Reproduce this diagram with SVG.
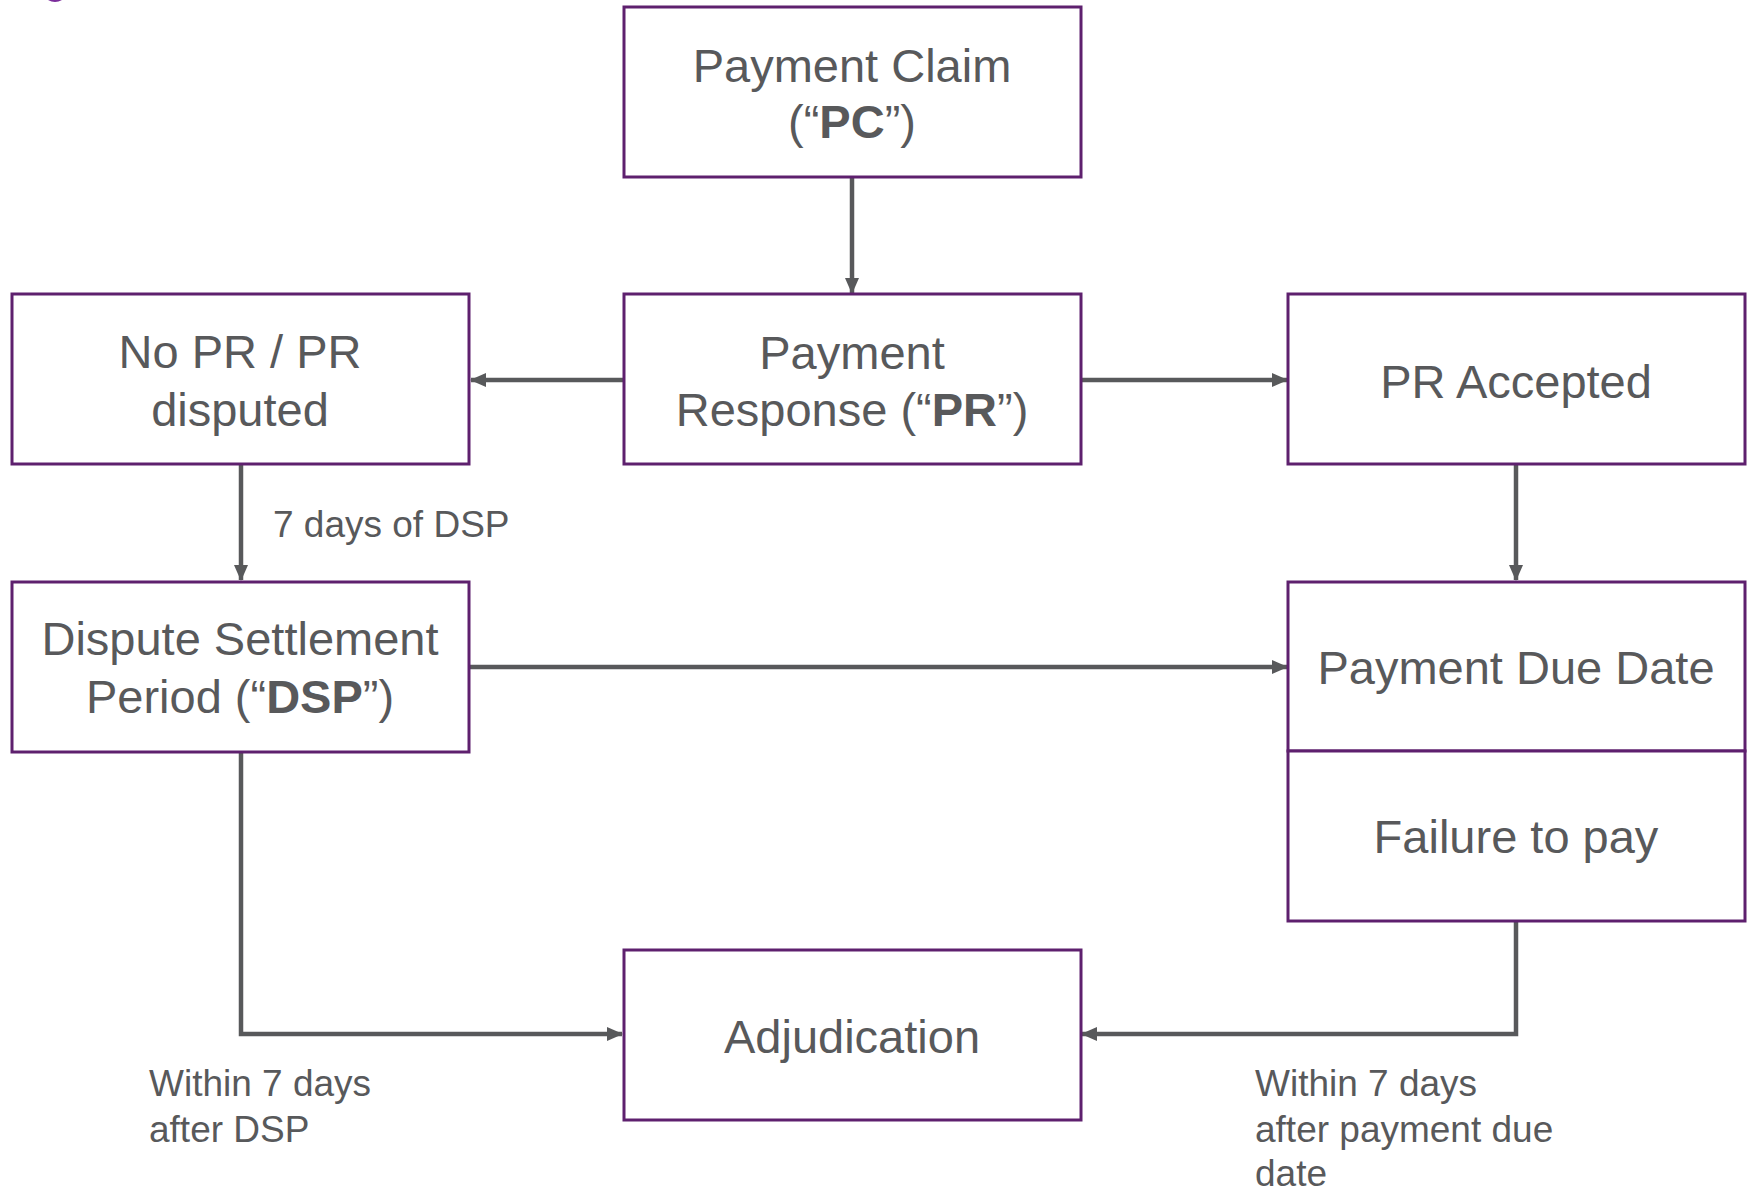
<svg xmlns="http://www.w3.org/2000/svg" width="1752" height="1189" viewBox="0 0 1752 1189">
<style>
.box{fill:#ffffff;stroke:#5E206E;stroke-width:3}
.t{font-family:"Liberation Sans",Arial,sans-serif;font-size:47px;fill:#58595B;text-anchor:middle}
.lbl{font-family:"Liberation Sans",Arial,sans-serif;font-size:37px;fill:#58595B}
.c{fill:none;stroke:#58595B;stroke-width:4.5}
.b{font-weight:bold}
</style>
<defs>
<marker id="ah" markerUnits="userSpaceOnUse" markerWidth="16" markerHeight="16" viewBox="0 0 16 16" refX="15" refY="8" orient="auto">
<path d="M0 1 L16 8 L0 15 Z" fill="#58595B"/>
</marker>
</defs>
<rect width="1752" height="1189" fill="#ffffff"/>
<path d="M48 0 Q55 4 62 0 Z" fill="#7B2D9B"/>
<g id="connectors">
<line class="c" x1="852" y1="178" x2="852" y2="293" marker-end="url(#ah)"/>
<line class="c" x1="623" y1="380" x2="471" y2="380" marker-end="url(#ah)"/>
<line class="c" x1="1081" y1="380" x2="1287" y2="380" marker-end="url(#ah)"/>
<line class="c" x1="1516" y1="465" x2="1516" y2="580" marker-end="url(#ah)"/>
<line class="c" x1="241" y1="465" x2="241" y2="580" marker-end="url(#ah)"/>
<line class="c" x1="469" y1="667" x2="1287" y2="667" marker-end="url(#ah)"/>
<polyline class="c" points="241,752 241,1034 622,1034" marker-end="url(#ah)"/>
<polyline class="c" points="1516,921 1516,1034 1082,1034" marker-end="url(#ah)"/>
<text class="lbl" x="273" y="537">7 days of DSP</text>
<text class="lbl" x="149" y="1096">Within 7 days</text>
<text class="lbl" x="149" y="1142">after DSP</text>
<text class="lbl" x="1255" y="1096">Within 7 days</text>
<text class="lbl" x="1255" y="1142">after payment due</text>
<text class="lbl" x="1255" y="1186">date</text>
</g>
<g id="pc">
<rect class="box" x="624" y="7" width="457" height="170"/>
<text class="t" x="852" y="82">Payment Claim</text>
<text class="t" x="852" y="138">(“<tspan class="b">PC</tspan>”)</text>
</g>
<g id="pr">
<rect class="box" x="624" y="294" width="457" height="170"/>
<text class="t" x="852" y="369">Payment</text>
<text class="t" x="852" y="426">Response (“<tspan class="b">PR</tspan>”)</text>
</g>
<g id="nopr">
<rect class="box" x="12" y="294" width="457" height="170"/>
<text class="t" x="240" y="368">No PR / PR</text>
<text class="t" x="240" y="426">disputed</text>
</g>
<g id="pra">
<rect class="box" x="1288" y="294" width="457" height="170"/>
<text class="t" x="1516" y="398">PR Accepted</text>
</g>
<g id="dsp">
<rect class="box" x="12" y="582" width="457" height="170"/>
<text class="t" x="240" y="655">Dispute Settlement</text>
<text class="t" x="240" y="713">Period (“<tspan class="b">DSP</tspan>”)</text>
</g>
<g id="pdd">
<rect class="box" x="1288" y="582" width="457" height="169"/>
<text class="t" x="1516" y="684">Payment Due Date</text>
</g>
<g id="ftp">
<rect class="box" x="1288" y="751" width="457" height="170"/>
<text class="t" x="1516" y="853">Failure to pay</text>
</g>
<g id="adj">
<rect class="box" x="624" y="950" width="457" height="170"/>
<text class="t" x="852" y="1053">Adjudication</text>
</g>
</svg>
